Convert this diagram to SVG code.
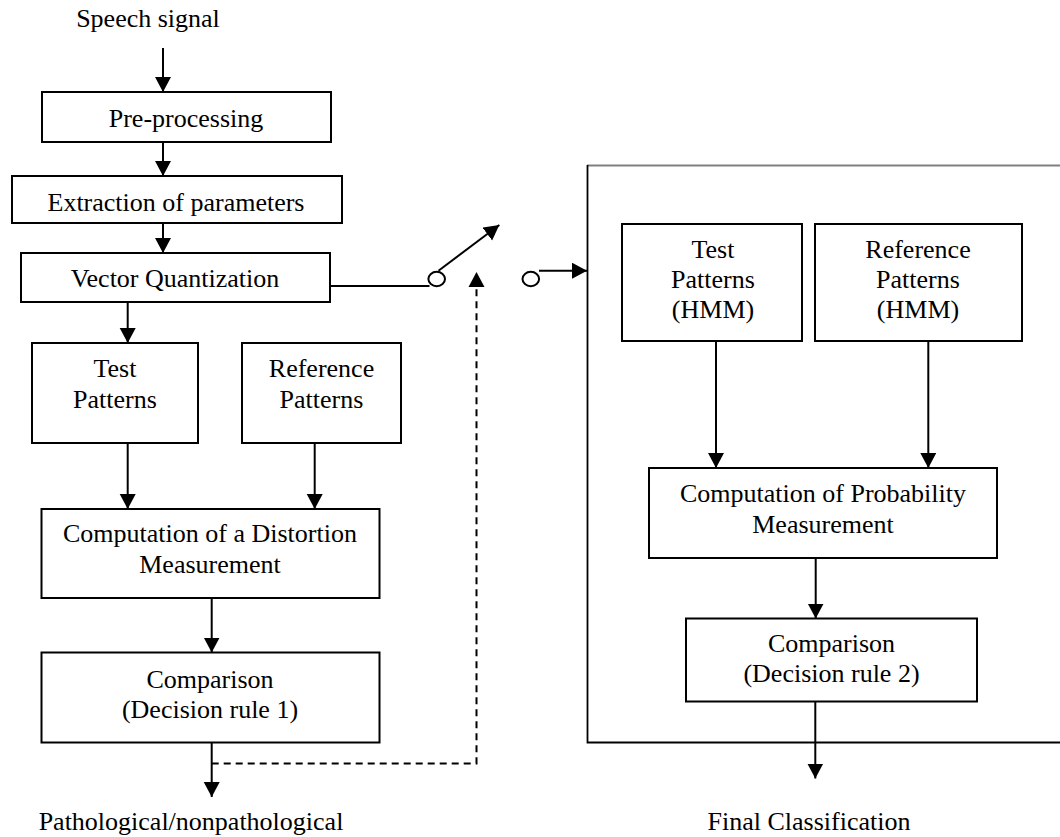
<svg xmlns="http://www.w3.org/2000/svg" width="1060" height="837" viewBox="0 0 1060 837">
<style>
  .box { fill: #fff; stroke: #000; stroke-width: 2; }
  .ln { fill: none; stroke: #000; stroke-width: 2; }
  .dash { fill: none; stroke: #000; stroke-width: 2; stroke-dasharray: 7 5; }
  text { font-family: "Liberation Serif", "Times New Roman", serif; font-size: 26px; fill: #000; text-anchor: middle; }
</style>
<defs>
  <marker id="ah" markerUnits="userSpaceOnUse" markerWidth="17" markerHeight="17" refX="15" refY="8" orient="auto">
    <path d="M0,0 L15,8 L0,16 z" fill="#000"/>
  </marker>
</defs>
<rect width="1060" height="837" fill="#fff"/>

<g id="container-hmm">
  <line x1="587" y1="165.5" x2="1062" y2="165.5" stroke="#808080" stroke-width="2"/>
  <polyline points="587.5,165 587.5,742.5 1062,742.5" fill="none" stroke="#000" stroke-width="1.8"/>
</g>

<g id="speech-signal"><text x="148" y="27">Speech signal</text></g>

<g id="preprocessing">
  <rect class="box" x="42" y="92" width="289" height="50"/>
  <text x="186" y="127">Pre-processing</text>
</g>
<g id="extraction">
  <rect class="box" x="12" y="176" width="330" height="47"/>
  <text x="176" y="211">Extraction of parameters</text>
</g>
<g id="vq">
  <rect class="box" x="21" y="253" width="309" height="49"/>
  <text x="175" y="287">Vector Quantization</text>
</g>
<g id="test-patterns">
  <rect class="box" x="32" y="343" width="166" height="100"/>
  <text x="115" y="377">Test</text>
  <text x="115" y="408">Patterns</text>
</g>
<g id="reference-patterns">
  <rect class="box" x="242" y="343" width="159" height="100"/>
  <text x="321.5" y="377">Reference</text>
  <text x="321.5" y="408">Patterns</text>
</g>
<g id="distortion">
  <rect class="box" x="41.5" y="509" width="338" height="89"/>
  <text x="210" y="542">Computation of a Distortion</text>
  <text x="210" y="573">Measurement</text>
</g>
<g id="comparison1">
  <rect class="box" x="41.5" y="652.5" width="338" height="90"/>
  <text x="210" y="688">Comparison</text>
  <text x="210" y="718">(Decision rule 1)</text>
</g>
<g id="pathological"><text x="191" y="830">Pathological/nonpathological</text></g>

<g id="test-patterns-hmm">
  <rect class="box" x="622" y="224" width="180" height="117"/>
  <text x="713" y="258">Test</text>
  <text x="713" y="288">Patterns</text>
  <text x="713" y="318">(HMM)</text>
</g>
<g id="reference-patterns-hmm">
  <rect class="box" x="815" y="224" width="207" height="117"/>
  <text x="918" y="258">Reference</text>
  <text x="918" y="288">Patterns</text>
  <text x="918" y="318">(HMM)</text>
</g>
<g id="probability">
  <rect class="box" x="649" y="468" width="348" height="90"/>
  <text x="823" y="502">Computation of Probability</text>
  <text x="823" y="533">Measurement</text>
</g>
<g id="comparison2">
  <rect class="box" x="686" y="618.5" width="291" height="83"/>
  <text x="831.5" y="652">Comparison</text>
  <text x="831.5" y="682">(Decision rule 2)</text>
</g>
<g id="final-classification"><text x="809" y="830">Final Classification</text></g>

<g id="switch">
  <ellipse cx="436.7" cy="279" rx="8.3" ry="7.2" fill="#fff" stroke="#000" stroke-width="2"/>
  <ellipse cx="530.8" cy="279" rx="8.3" ry="7.2" fill="#fff" stroke="#000" stroke-width="2"/>
</g>

<g id="connectors">
  <line class="ln" x1="163" y1="48" x2="163" y2="92" marker-end="url(#ah)"/>
  <line class="ln" x1="163" y1="142" x2="163" y2="176" marker-end="url(#ah)"/>
  <line class="ln" x1="163" y1="223" x2="163" y2="253" marker-end="url(#ah)"/>
  <line class="ln" x1="127.7" y1="302" x2="127.7" y2="343" marker-end="url(#ah)"/>
  <line class="ln" x1="127.7" y1="443" x2="127.7" y2="509" marker-end="url(#ah)"/>
  <line class="ln" x1="314.7" y1="443" x2="314.7" y2="509" marker-end="url(#ah)"/>
  <line class="ln" x1="211.7" y1="598" x2="211.7" y2="652.5" marker-end="url(#ah)"/>
  <line class="ln" x1="211.7" y1="742.5" x2="211.7" y2="797" marker-end="url(#ah)"/>
  <polyline class="dash" points="211.7,763.5 476.5,763.5 476.5,276"/>
  <path d="M468.5,287 L476.5,272 L484.5,287 z" fill="#000"/>
  <line class="ln" x1="330" y1="286" x2="429.5" y2="286"/>
  <line class="ln" x1="438.5" y1="270.7" x2="499.3" y2="225" marker-end="url(#ah)"/>
  <line class="ln" x1="539" y1="270.7" x2="587" y2="270.7" marker-end="url(#ah)"/>
  <line class="ln" x1="716" y1="341" x2="716" y2="468" marker-end="url(#ah)"/>
  <line class="ln" x1="928.3" y1="341" x2="928.3" y2="468" marker-end="url(#ah)"/>
  <line class="ln" x1="815.7" y1="558" x2="815.7" y2="618.5" marker-end="url(#ah)"/>
  <line class="ln" x1="815.3" y1="701.5" x2="815.3" y2="778.5" marker-end="url(#ah)"/>
</g>
</svg>
